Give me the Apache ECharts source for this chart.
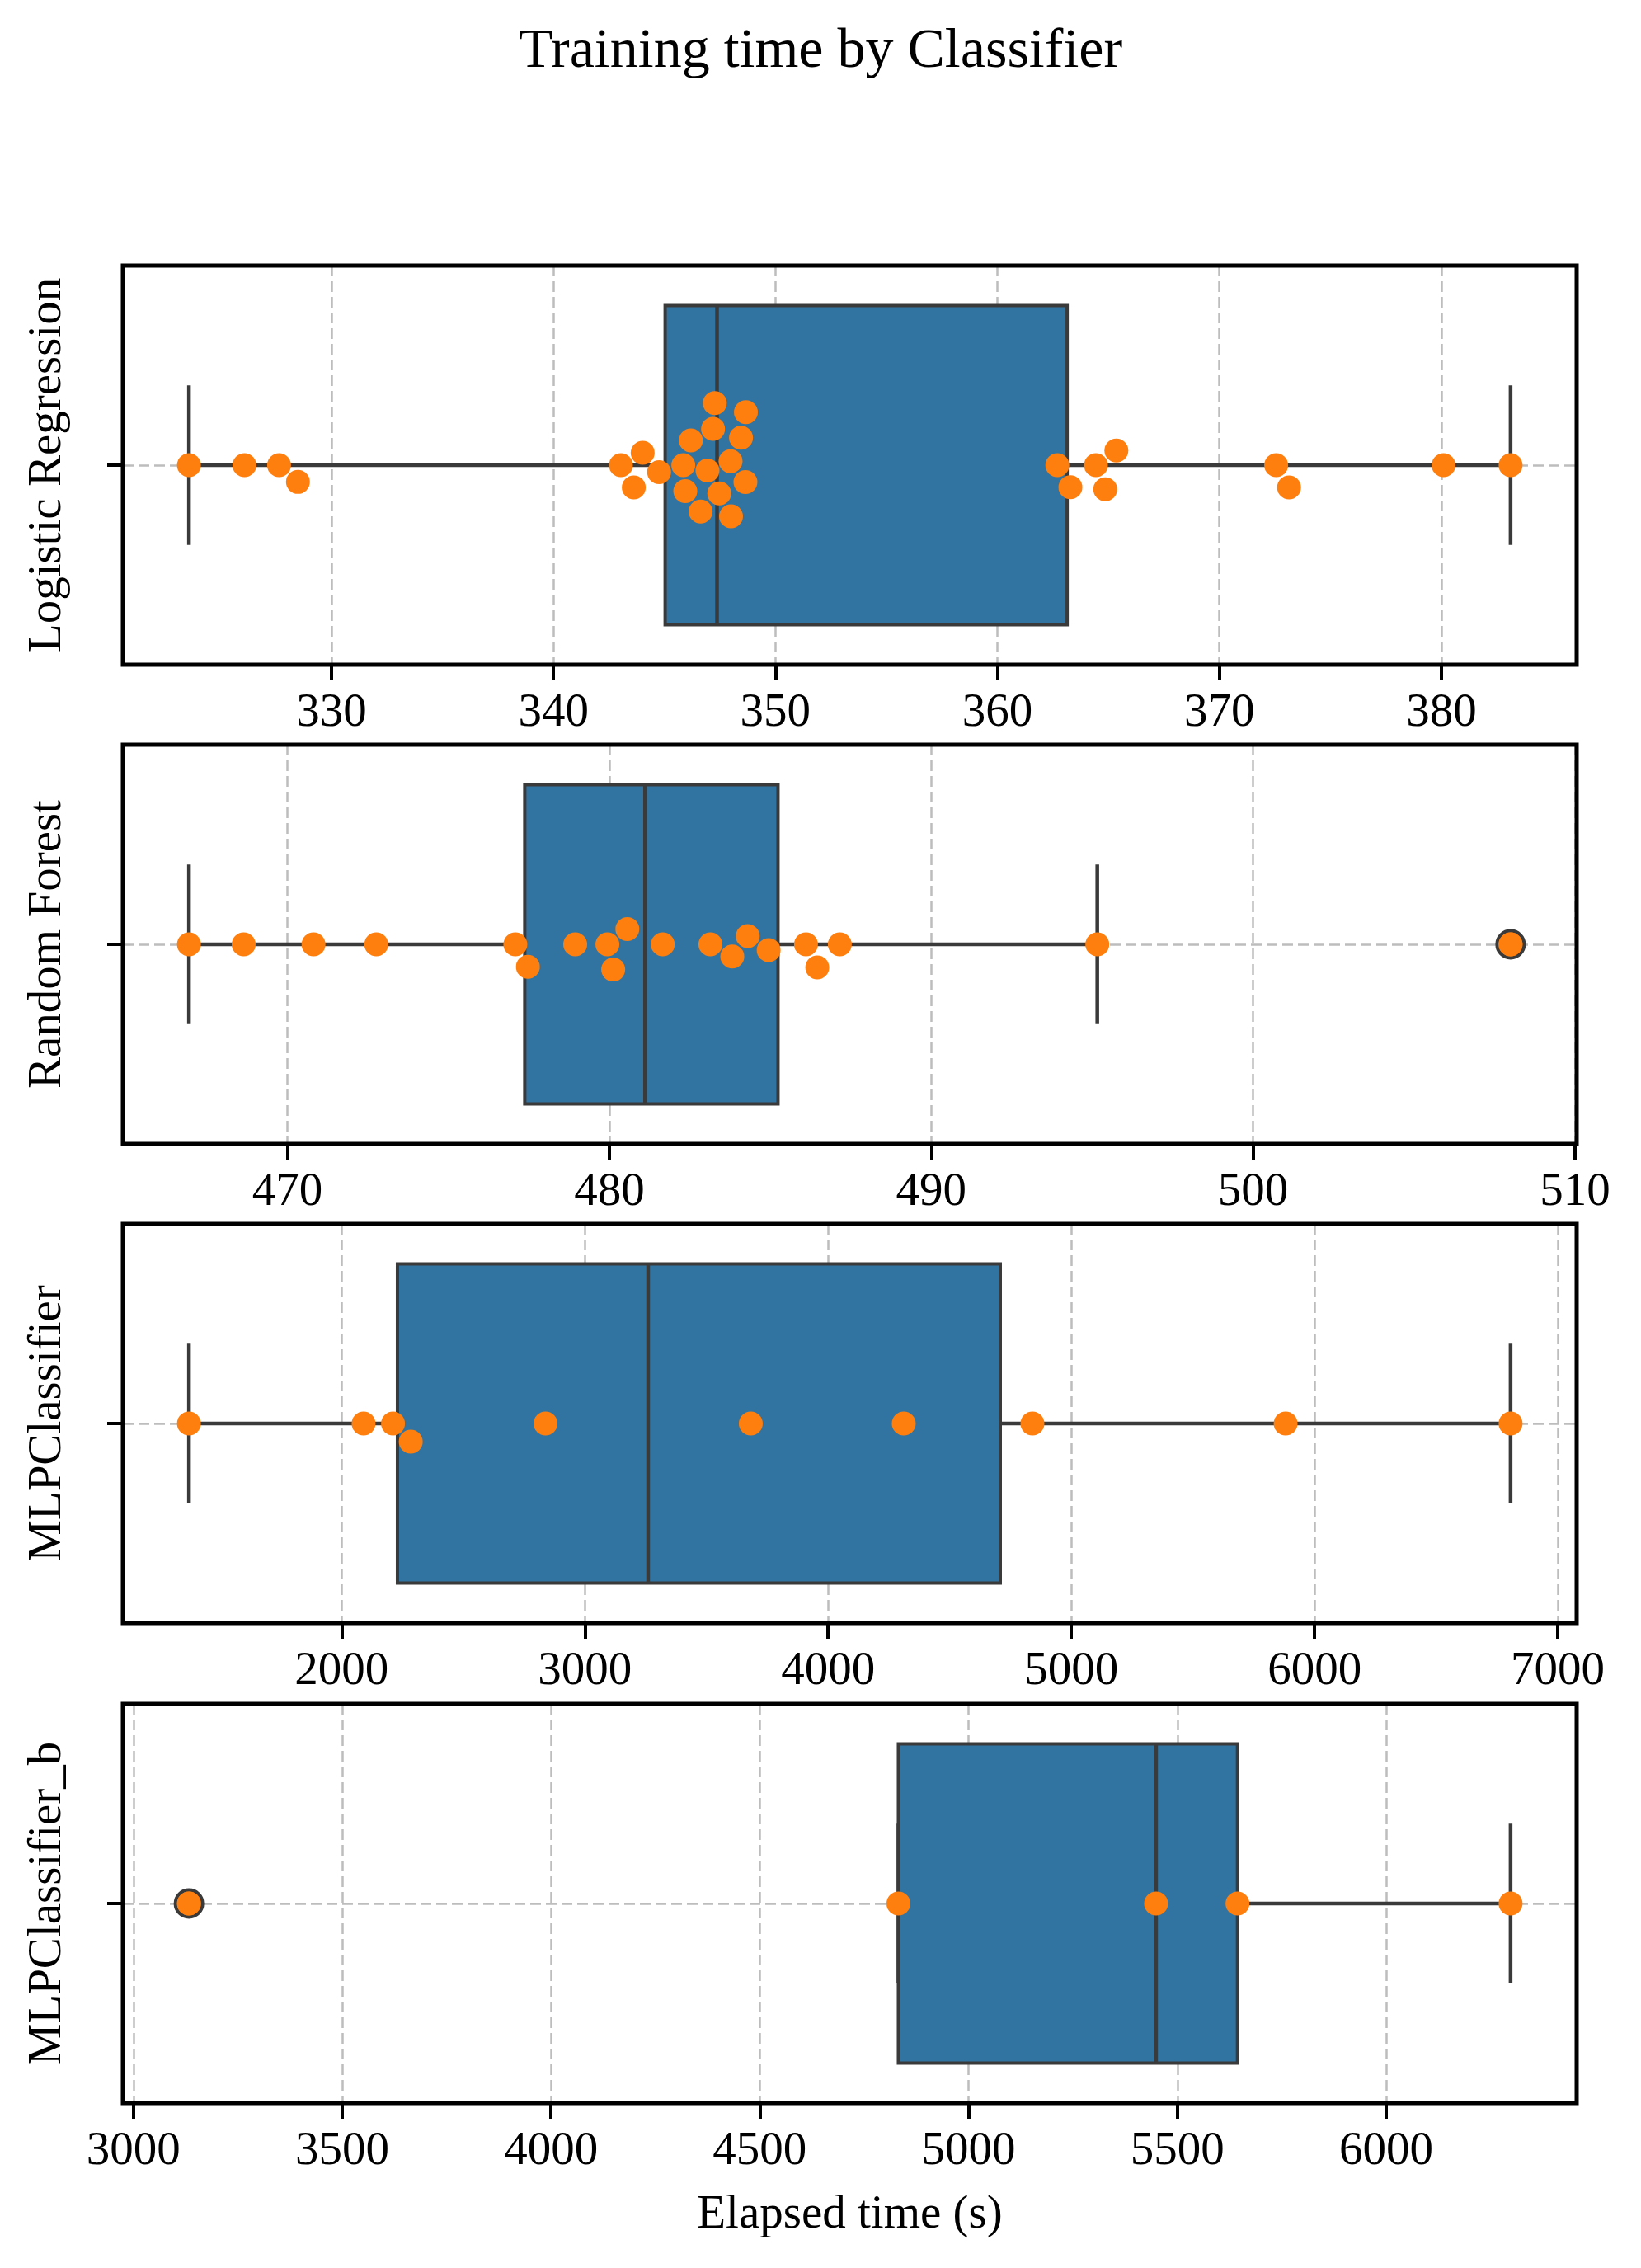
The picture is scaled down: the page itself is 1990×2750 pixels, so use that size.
<!DOCTYPE html>
<html>
<head>
<meta charset="utf-8">
<title>Training time by Classifier</title>
<script src="https://cdn.jsdelivr.net/npm/echarts@6/dist/echarts.min.js"></script>
<style>
  html, body { margin: 0; padding: 0; background: #fff; }
  #chart { width: 1990px; height: 2750px; }
</style>
</head>
<body>
<div id="chart"></div>
<script>
// classifier names, one panel each
var classifiers = ['Logistic Regression', 'Random Forest', 'MLPClassifier', 'MLPClassifier_b'];

// elapsed training times (s)
var logRegTimes = [323.58, 326.08, 327.64, 328.49, 343.04, 343.62, 344.02, 344.76, 345.85, 345.94,
    346.19, 346.63, 346.94, 347.19, 347.27, 347.47, 347.98, 348.0, 348.45, 348.65,
    348.67, 362.70, 363.29, 364.44, 364.86, 365.36, 372.56, 373.14, 380.10, 383.12];
var forestTimes = [466.94, 468.64, 470.81, 472.76, 477.08, 477.47, 478.94, 479.94, 480.12, 480.56,
    481.66, 483.14, 483.82, 484.30, 484.95, 486.11, 486.46, 487.16, 495.16, 508.0];
var mlpTimes = [1372, 2090, 2211, 2284, 2838, 3682, 4311, 4840, 5881, 6806];
var mlpBTimes = [3133, 4832, 5449, 5644, 6298];

// tick labels of each x axis
var logRegTicks = [330, 340, 350, 360, 370, 380];
var forestTicks = [470, 480, 490, 500, 510];
var mlpTicks = [2000, 3000, 4000, 5000, 6000, 7000];
var mlpBTicks = [3000, 3500, 4000, 4500, 5000, 5500, 6000];

var panelTimes = [logRegTimes, forestTimes, mlpTimes, mlpBTimes];
var panelTicks = [logRegTicks, forestTicks, mlpTicks, mlpBTicks];

var FONT = 'Liberation Serif';
var LINE = '#3a3a3a';
var GRID_TOPS = [322, 903, 1484, 2066];
var GRID_H = 484;
var DOT = 29;      // marker diameter
var SWARM_R = 15;  // radius used for swarm packing

var chart = echarts.init(document.getElementById('chart'));

// numpy style linear quantile
function quantile(sorted, p) {
    var pos = (sorted.length - 1) * p;
    var lo = Math.floor(pos), hi = Math.ceil(pos);
    return sorted[lo] + (sorted[hi] - sorted[lo]) * (pos - lo);
}

// [whiskerLow, q1, median, q3, whiskerHigh] and the fliers
function boxStats(values) {
    var s = values.slice().sort(function (a, b) { return a - b; });
    var q1 = quantile(s, 0.25), med = quantile(s, 0.5), q3 = quantile(s, 0.75);
    var iqr = q3 - q1;
    var inside = s.filter(function (v) { return v >= q1 - 1.5 * iqr && v <= q3 + 1.5 * iqr; });
    var out = s.filter(function (v) { return v < q1 - 1.5 * iqr || v > q3 + 1.5 * iqr; });
    return { box: [inside[0], q1, med, q3, inside[inside.length - 1]], fliers: out };
}

function renderBox(params, api) {
    var lo = api.coord([api.value(0), 0]);
    var q1 = api.coord([api.value(1), 0]);
    var med = api.coord([api.value(2), 0]);
    var q3 = api.coord([api.value(3), 0]);
    var hi = api.coord([api.value(4), 0]);
    var band = api.size([0, 1])[1];
    var y = med[1];
    var half = band * 0.4, cap = band * 0.2;
    var ls = { stroke: LINE, lineWidth: 4.5 };
    return {
        type: 'group',
        children: [
            { type: 'line', shape: { x1: lo[0], y1: y, x2: q1[0], y2: y }, style: ls },
            { type: 'line', shape: { x1: q3[0], y1: y, x2: hi[0], y2: y }, style: ls },
            { type: 'line', shape: { x1: lo[0], y1: y - cap, x2: lo[0], y2: y + cap }, style: ls },
            { type: 'line', shape: { x1: hi[0], y1: y - cap, x2: hi[0], y2: y + cap }, style: ls },
            {
                type: 'rect',
                shape: { x: q1[0], y: y - half, width: q3[0] - q1[0], height: 2 * half },
                style: { fill: '#3274a1', stroke: LINE, lineWidth: 4 }
            },
            { type: 'line', shape: { x1: med[0], y1: y - half, x2: med[0], y2: y + half }, style: ls }
        ]
    };
}

var dashed = { color: '#bdbdbd', width: 2.5, type: [13, 6] };
var grids = [], xAxes = [], yAxes = [], series = [];

panelTimes.forEach(function (vals, i) {
    var mn = Math.min.apply(null, vals), mx = Math.max.apply(null, vals);
    var pad = (mx - mn) * 0.05;
    var stats = boxStats(vals);

    grids.push({
        left: 149, right: 78, top: GRID_TOPS[i], height: GRID_H, z: 1,
        show: true, borderColor: '#000', borderWidth: 5, backgroundColor: 'transparent',
        outerBoundsMode: 'none'
    });
    xAxes.push({
        gridIndex: i, type: 'value', min: mn - pad, max: mx + pad,
        name: i === 3 ? 'Elapsed time (s)' : '',
        nameLocation: 'middle', nameGap: 108,
        nameTextStyle: { fontFamily: FONT, fontSize: 57, color: '#000' },
        axisLine: { show: false, onZero: false },
        axisTick: { show: true, length: 19, lineStyle: { color: '#000', width: 4 }, customValues: panelTicks[i] },
        axisLabel: {
            customValues: panelTicks[i], margin: 31, fontFamily: FONT, fontSize: 57, color: '#000',
            formatter: function (v) { return String(v); }
        },
        splitLine: { show: true, lineStyle: dashed }
    });
    yAxes.push({
        gridIndex: i, type: 'value', min: -0.5, max: 0.5,
        name: classifiers[i], nameLocation: 'middle', nameGap: 62, nameRotate: 90,
        nameTextStyle: { fontFamily: FONT, fontSize: 57, color: '#000' },
        axisLine: { show: false, onZero: false },
        axisTick: { show: true, length: 19, lineStyle: { color: '#000', width: 4 }, customValues: [0] },
        axisLabel: { show: false, customValues: [0] },
        splitLine: { show: true, lineStyle: dashed }
    });
    series.push({
        type: 'custom', xAxisIndex: i, yAxisIndex: i, z: 2,
        renderItem: renderBox,
        encode: { x: [0, 1, 2, 3, 4], y: 5 },
        data: [stats.box.concat([0])]
    });
    series.push({
        type: 'scatter', xAxisIndex: i, yAxisIndex: i, z: 3,
        symbolSize: DOT + 4,
        itemStyle: { color: '#ff7f0e', borderColor: LINE, borderWidth: 4, opacity: 1 },
        data: stats.fliers.map(function (v) { return [v, 0]; })
    });
    series.push({
        id: 'swarm' + i,
        type: 'scatter', xAxisIndex: i, yAxisIndex: i, z: 4,
        symbolSize: DOT,
        itemStyle: { color: '#ff7f0e', opacity: 1 },
        data: vals.map(function (v) { return [v, 0]; })
    });
});

chart.setOption({
    animation: false,
    backgroundColor: '#fff',
    title: {
        text: 'Training time by Classifier', left: 'center', top: 24,
        textStyle: { fontFamily: FONT, fontSize: 68, fontWeight: 'normal', color: '#000' }
    },
    grid: grids,
    xAxis: xAxes,
    yAxis: yAxes,
    series: series
});

// beeswarm packing in pixel space, same greedy scheme as seaborn
function swarm(vals, gi) {
    var pts = vals.map(function (v) {
        var p = chart.convertToPixel({ gridIndex: gi }, [v, 0]);
        return { v: v, x: p[0], c: p[1] };
    });
    var mid = pts[0].c;
    var order = pts.slice().sort(function (a, b) { return a.x - b.x; });
    var placed = [];
    var d2 = 4 * SWARM_R * SWARM_R;
    order.forEach(function (p) {
        var nbrs = [];
        for (var k = placed.length - 1; k >= 0; k--) {
            if (p.x - placed[k].x < 2 * SWARM_R) nbrs.unshift(placed[k]);
            else break;
        }
        var cands = [mid];
        var downFirst = true;
        nbrs.forEach(function (q) {
            var dx = p.x - q.x;
            var off = Math.sqrt(Math.max(d2 - dx * dx, 0)) * 1.05;
            if (downFirst) cands.push(q.c + off, q.c - off);
            else cands.push(q.c - off, q.c + off);
            downFirst = !downFirst;
        });
        var idx = cands.map(function (c, k) { return k; });
        idx.sort(function (a, b) {
            return (Math.abs(cands[a] - mid) - Math.abs(cands[b] - mid)) || (a - b);
        });
        var chosen = mid;
        for (var t = 0; t < idx.length; t++) {
            var c = cands[idx[t]];
            var ok = nbrs.every(function (q) {
                var dx = q.x - p.x, dc = q.c - c;
                return dx * dx + dc * dc >= d2 - 1e-6;
            });
            if (ok) { chosen = c; break; }
        }
        p.c = chosen;
        placed.push(p);
    });
    return pts.map(function (p) {
        return [p.v, chart.convertFromPixel({ gridIndex: gi }, [p.x, p.c])[1]];
    });
}

chart.setOption({
    series: panelTimes.map(function (vals, i) {
        return { id: 'swarm' + i, data: swarm(vals, i) };
    })
});
</script>
</body>
</html>
